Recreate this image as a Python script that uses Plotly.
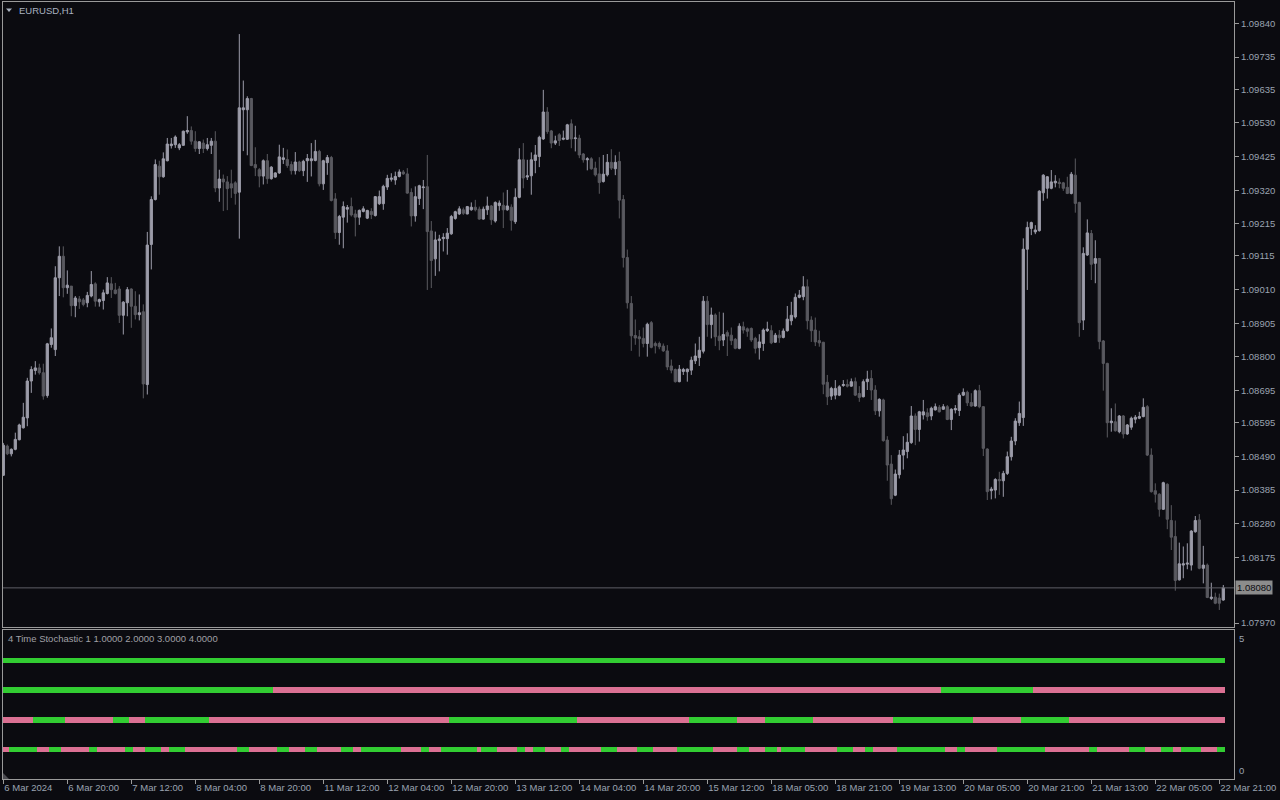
import plotly.graph_objects as go

# ---------------- data ----------------
TIME_LABELS = ["6 Mar 2024", "6 Mar 20:00", "7 Mar 12:00", "8 Mar 04:00", "8 Mar 20:00",
               "11 Mar 12:00", "12 Mar 04:00", "12 Mar 20:00", "13 Mar 12:00", "14 Mar 04:00",
               "14 Mar 20:00", "15 Mar 12:00", "18 Mar 05:00", "18 Mar 21:00", "19 Mar 13:00",
               "20 Mar 05:00", "20 Mar 21:00", "21 Mar 13:00", "22 Mar 05:00", "22 Mar 21:00"]
TIME_LABEL_BARS = [0, 16, 32, 48, 64, 80, 96, 112, 128, 144, 160, 176, 192, 208, 224, 240, 256, 272, 288, 304]

PRICE_TICKS = [1.09840, 1.09735, 1.09635, 1.09530, 1.09425, 1.09320, 1.09215, 1.09115, 1.09010,
               1.08905, 1.08800, 1.08695, 1.08595, 1.08490, 1.08385, 1.08280, 1.08175, 1.07970]
PRICE_TICK_TEXT = ["1.09840", "1.09735", "1.09635", "1.09530", "1.09425", "1.09320", "1.09215", "1.09115",
                   "1.09010", "1.08905", "1.08800", "1.08695", "1.08595", "1.08490", "1.08385", "1.08280",
                   "1.08175", "1.07970"]
CURRENT_PRICE = 1.08080

OPEN = [
    1.08431, 1.08522, 1.08498, 1.08512, 1.08542, 1.08579, 1.08610, 1.08725, 1.08758, 1.08766,
    1.08751, 1.08680, 1.08839, 1.08823, 1.09047, 1.09114, 1.09016, 1.09021, 1.08960, 1.08981,
    1.08978, 1.08969, 1.08990, 1.09028, 1.08972, 1.08976, 1.08998, 1.09028, 1.09009, 1.09012,
    1.08930, 1.08969, 1.09012, 1.08958, 1.08932, 1.08941, 1.08714, 1.09151, 1.09291, 1.09395,
    1.09362, 1.09412, 1.09459, 1.09462, 1.09452, 1.09460, 1.09502, 1.09506, 1.09473, 1.09450,
    1.09467, 1.09450, 1.09460, 1.09473, 1.09327, 1.09355, 1.09346, 1.09340, 1.09343, 1.09314,
    1.09571, 1.09571, 1.09606, 1.09400, 1.09384, 1.09364, 1.09412, 1.09356, 1.09361, 1.09374,
    1.09416, 1.09416, 1.09400, 1.09381, 1.09408, 1.09381, 1.09412, 1.09412, 1.09413, 1.09441,
    1.09340, 1.09406, 1.09422, 1.09293, 1.09188, 1.09236, 1.09261, 1.09269, 1.09246, 1.09236,
    1.09254, 1.09233, 1.09254, 1.09241, 1.09278, 1.09278, 1.09330, 1.09354, 1.09352, 1.09363,
    1.09377, 1.09371, 1.09313, 1.09240, 1.09294, 1.09328, 1.09331, 1.09193, 1.09106, 1.09163,
    1.09169, 1.09169, 1.09184, 1.09232, 1.09246, 1.09259, 1.09246, 1.09259, 1.09267, 1.09261,
    1.09230, 1.09259, 1.09271, 1.09224, 1.09272, 1.09273, 1.09259, 1.09267, 1.09222, 1.09298,
    1.09415, 1.09361, 1.09365, 1.09413, 1.09425, 1.09480, 1.09564, 1.09505, 1.09467, 1.09493,
    1.09479, 1.09479, 1.09527, 1.09481, 1.09482, 1.09433, 1.09415, 1.09418, 1.09389, 1.09371,
    1.09347, 1.09368, 1.09407, 1.09387, 1.09410, 1.09291, 1.09110, 1.08967, 1.08867, 1.08863,
    1.08858, 1.08842, 1.08907, 1.08842, 1.08842, 1.08834, 1.08819, 1.08772, 1.08761, 1.08723,
    1.08755, 1.08754, 1.08759, 1.08788, 1.08798, 1.08818, 1.08974, 1.08901, 1.08931, 1.08865,
    1.08853, 1.08876, 1.08868, 1.08855, 1.08827, 1.08894, 1.08888, 1.08889, 1.08858, 1.08829,
    1.08842, 1.08882, 1.08882, 1.08846, 1.08868, 1.08861, 1.08882, 1.08913, 1.08925, 1.08986,
    1.08988, 1.09019, 1.08915, 1.08884, 1.08851, 1.08846, 1.08721, 1.08678, 1.08681, 1.08681,
    1.08711, 1.08714, 1.08709, 1.08723, 1.08686, 1.08676, 1.08723, 1.08733, 1.08697, 1.08632,
    1.08666, 1.08541, 1.08466, 1.08369, 1.08433, 1.08494, 1.08505, 1.08533, 1.08616, 1.08574,
    1.08619, 1.08626, 1.08616, 1.08635, 1.08643, 1.08637, 1.08645, 1.08605, 1.08635, 1.08633,
    1.08681, 1.08690, 1.08658, 1.08647, 1.08695, 1.08645, 1.08513, 1.08383, 1.08385, 1.08418,
    1.08414, 1.08437, 1.08489, 1.08538, 1.08595, 1.08611, 1.09136, 1.09201, 1.09190, 1.09194,
    1.09312, 1.09326, 1.09326, 1.09343, 1.09345, 1.09343, 1.09329, 1.09310, 1.09367, 1.09282,
    1.08915, 1.09118, 1.09185, 1.09092, 1.09107, 1.08850, 1.08780, 1.08595, 1.08598, 1.08567,
    1.08616, 1.08560, 1.08581, 1.08606, 1.08609, 1.08614, 1.08645, 1.08494, 1.08383, 1.08372,
    1.08325, 1.08403, 1.08290, 1.08240, 1.08105, 1.08151, 1.08154, 1.08151, 1.08255, 1.08292,
    1.08141, 1.08151, 1.08047, 1.08051, 1.08048, 1.08042]

HIGH = [
    1.08532, 1.08527, 1.08515, 1.08564, 1.08592, 1.08657, 1.08735, 1.08771, 1.08787, 1.08779,
    1.08779, 1.08844, 1.08889, 1.09083, 1.09145, 1.09145, 1.09070, 1.09021, 1.08990, 1.08990,
    1.08984, 1.09003, 1.09068, 1.09033, 1.08982, 1.09010, 1.09049, 1.09049, 1.09031, 1.09021,
    1.08974, 1.09018, 1.09014, 1.09005, 1.08995, 1.08964, 1.09190, 1.09301, 1.09416, 1.09412,
    1.09438, 1.09483, 1.09483, 1.09491, 1.09467, 1.09506, 1.09551, 1.09519, 1.09504, 1.09473,
    1.09478, 1.09483, 1.09483, 1.09504, 1.09384, 1.09369, 1.09364, 1.09384, 1.09348, 1.09807,
    1.09662, 1.09613, 1.09608, 1.09454, 1.09389, 1.09416, 1.09433, 1.09395, 1.09376, 1.09462,
    1.09452, 1.09447, 1.09410, 1.09439, 1.09412, 1.09415, 1.09433, 1.09467, 1.09477, 1.09446,
    1.09415, 1.09430, 1.09427, 1.09311, 1.09243, 1.09285, 1.09274, 1.09297, 1.09259, 1.09260,
    1.09270, 1.09259, 1.09264, 1.09302, 1.09319, 1.09337, 1.09368, 1.09373, 1.09378, 1.09385,
    1.09383, 1.09389, 1.09326, 1.09332, 1.09337, 1.09352, 1.09430, 1.09224, 1.09191, 1.09181,
    1.09186, 1.09202, 1.09243, 1.09256, 1.09270, 1.09266, 1.09271, 1.09282, 1.09290, 1.09269,
    1.09269, 1.09300, 1.09274, 1.09285, 1.09288, 1.09313, 1.09321, 1.09276, 1.09326, 1.09451,
    1.09467, 1.09415, 1.09438, 1.09461, 1.09490, 1.09633, 1.09579, 1.09508, 1.09490, 1.09498,
    1.09506, 1.09527, 1.09541, 1.09521, 1.09493, 1.09436, 1.09423, 1.09423, 1.09409, 1.09423,
    1.09430, 1.09433, 1.09448, 1.09429, 1.09440, 1.09305, 1.09135, 1.08990, 1.08917, 1.08884,
    1.08892, 1.08907, 1.08912, 1.08848, 1.08848, 1.08842, 1.08837, 1.08792, 1.08764, 1.08775,
    1.08766, 1.08764, 1.08801, 1.08842, 1.08863, 1.08990, 1.08990, 1.08954, 1.08936, 1.08941,
    1.08938, 1.08883, 1.08892, 1.08859, 1.08905, 1.08910, 1.08892, 1.08892, 1.08863, 1.08871,
    1.08889, 1.08910, 1.08899, 1.08875, 1.08884, 1.08889, 1.08959, 1.08972, 1.08998, 1.09009,
    1.09052, 1.09042, 1.08927, 1.08923, 1.08882, 1.08847, 1.08744, 1.08707, 1.08728, 1.08712,
    1.08728, 1.08730, 1.08733, 1.08736, 1.08709, 1.08730, 1.08757, 1.08759, 1.08712, 1.08671,
    1.08670, 1.08553, 1.08494, 1.08449, 1.08510, 1.08553, 1.08562, 1.08647, 1.08624, 1.08632,
    1.08666, 1.08640, 1.08645, 1.08655, 1.08650, 1.08653, 1.08650, 1.08640, 1.08650, 1.08687,
    1.08702, 1.08695, 1.08687, 1.08699, 1.08713, 1.08647, 1.08515, 1.08395, 1.08422, 1.08442,
    1.08445, 1.08505, 1.08551, 1.08609, 1.08661, 1.09170, 1.09222, 1.09222, 1.09211, 1.09320,
    1.09370, 1.09364, 1.09383, 1.09367, 1.09357, 1.09346, 1.09362, 1.09377, 1.09419, 1.09284,
    1.09142, 1.09229, 1.09196, 1.09164, 1.09109, 1.08853, 1.08782, 1.08640, 1.08655, 1.08619,
    1.08619, 1.08591, 1.08614, 1.08619, 1.08629, 1.08671, 1.08650, 1.08515, 1.08406, 1.08375,
    1.08411, 1.08406, 1.08338, 1.08290, 1.08221, 1.08209, 1.08219, 1.08260, 1.08304, 1.08310,
    1.08211, 1.08156, 1.08096, 1.08065, 1.08062, 1.08089]

LOW = [
    1.08429, 1.08494, 1.08490, 1.08509, 1.08540, 1.08577, 1.08584, 1.08688, 1.08745, 1.08745,
    1.08667, 1.08673, 1.08829, 1.08803, 1.08990, 1.08986, 1.08997, 1.08927, 1.08924, 1.08950,
    1.08958, 1.08955, 1.08986, 1.08957, 1.08957, 1.08948, 1.08995, 1.08984, 1.08995, 1.08906,
    1.08870, 1.08927, 1.08891, 1.08917, 1.08914, 1.08671, 1.08683, 1.09073, 1.09288, 1.09306,
    1.09359, 1.09410, 1.09450, 1.09452, 1.09445, 1.09459, 1.09496, 1.09462, 1.09440, 1.09433,
    1.09436, 1.09444, 1.09433, 1.09314, 1.09284, 1.09255, 1.09258, 1.09296, 1.09275, 1.09169,
    1.09442, 1.09429, 1.09395, 1.09364, 1.09329, 1.09338, 1.09340, 1.09353, 1.09359, 1.09371,
    1.09402, 1.09390, 1.09369, 1.09369, 1.09377, 1.09364, 1.09346, 1.09363, 1.09410, 1.09332,
    1.09321, 1.09368, 1.09285, 1.09168, 1.09150, 1.09139, 1.09219, 1.09238, 1.09176, 1.09212,
    1.09251, 1.09230, 1.09230, 1.09238, 1.09274, 1.09259, 1.09321, 1.09347, 1.09337, 1.09360,
    1.09368, 1.09309, 1.09207, 1.09222, 1.09274, 1.09261, 1.09009, 1.09015, 1.09053, 1.09067,
    1.09129, 1.09119, 1.09181, 1.09228, 1.09243, 1.09243, 1.09245, 1.09256, 1.09254, 1.09228,
    1.09228, 1.09243, 1.09212, 1.09219, 1.09256, 1.09202, 1.09256, 1.09194, 1.09215, 1.09295,
    1.09326, 1.09352, 1.09306, 1.09373, 1.09392, 1.09477, 1.09496, 1.09451, 1.09461, 1.09458,
    1.09476, 1.09477, 1.09451, 1.09441, 1.09420, 1.09406, 1.09382, 1.09384, 1.09363, 1.09309,
    1.09344, 1.09363, 1.09383, 1.09367, 1.09232, 1.09079, 1.08951, 1.08819, 1.08838, 1.08801,
    1.08830, 1.08801, 1.08827, 1.08811, 1.08824, 1.08816, 1.08759, 1.08749, 1.08720, 1.08721,
    1.08744, 1.08723, 1.08744, 1.08778, 1.08772, 1.08811, 1.08863, 1.08858, 1.08834, 1.08821,
    1.08834, 1.08803, 1.08837, 1.08824, 1.08824, 1.08873, 1.08863, 1.08847, 1.08811, 1.08792,
    1.08819, 1.08878, 1.08840, 1.08844, 1.08844, 1.08858, 1.08879, 1.08899, 1.08920, 1.08983,
    1.08977, 1.08886, 1.08847, 1.08834, 1.08832, 1.08684, 1.08650, 1.08666, 1.08668, 1.08678,
    1.08707, 1.08705, 1.08707, 1.08678, 1.08660, 1.08674, 1.08697, 1.08666, 1.08619, 1.08614,
    1.08536, 1.08414, 1.08339, 1.08366, 1.08421, 1.08449, 1.08484, 1.08529, 1.08525, 1.08536,
    1.08605, 1.08601, 1.08603, 1.08633, 1.08627, 1.08635, 1.08603, 1.08572, 1.08624, 1.08616,
    1.08678, 1.08647, 1.08645, 1.08645, 1.08640, 1.08491, 1.08354, 1.08356, 1.08359, 1.08370,
    1.08364, 1.08432, 1.08477, 1.08525, 1.08585, 1.08585, 1.09009, 1.09180, 1.09183, 1.09191,
    1.09287, 1.09294, 1.09323, 1.09329, 1.09326, 1.09318, 1.09308, 1.09307, 1.09250, 1.08863,
    1.08884, 1.09115, 1.09040, 1.09030, 1.08824, 1.08695, 1.08549, 1.08567, 1.08567, 1.08562,
    1.08546, 1.08557, 1.08573, 1.08593, 1.08606, 1.08612, 1.08491, 1.08377, 1.08346, 1.08302,
    1.08323, 1.08263, 1.08198, 1.08071, 1.08103, 1.08110, 1.08138, 1.08134, 1.08252, 1.08138,
    1.08094, 1.08048, 1.08042, 1.08029, 1.08011, 1.08040]

CLOSE = [
    1.08525, 1.08498, 1.08512, 1.08543, 1.08588, 1.08612, 1.08725, 1.08761, 1.08766, 1.08751,
    1.08678, 1.08841, 1.08860, 1.09047, 1.09114, 1.09016, 1.09024, 1.08960, 1.08984, 1.08972,
    1.08964, 1.08992, 1.09026, 1.08974, 1.08979, 1.09000, 1.09031, 1.09010, 1.08998, 1.08930,
    1.08971, 1.09010, 1.08958, 1.08932, 1.08938, 1.08716, 1.09149, 1.09291, 1.09400, 1.09362,
    1.09418, 1.09464, 1.09464, 1.09486, 1.09462, 1.09504, 1.09506, 1.09473, 1.09450, 1.09471,
    1.09450, 1.09462, 1.09473, 1.09327, 1.09355, 1.09346, 1.09325, 1.09327, 1.09310, 1.09577,
    1.09577, 1.09606, 1.09397, 1.09390, 1.09364, 1.09412, 1.09356, 1.09392, 1.09374, 1.09424,
    1.09421, 1.09397, 1.09381, 1.09408, 1.09381, 1.09410, 1.09419, 1.09418, 1.09441, 1.09340,
    1.09412, 1.09422, 1.09288, 1.09188, 1.09238, 1.09269, 1.09266, 1.09243, 1.09236, 1.09257,
    1.09262, 1.09257, 1.09244, 1.09300, 1.09300, 1.09332, 1.09357, 1.09358, 1.09363, 1.09377,
    1.09371, 1.09311, 1.09240, 1.09300, 1.09334, 1.09330, 1.09191, 1.09101, 1.09165, 1.09168,
    1.09173, 1.09186, 1.09238, 1.09253, 1.09262, 1.09248, 1.09269, 1.09267, 1.09259, 1.09230,
    1.09261, 1.09271, 1.09228, 1.09282, 1.09280, 1.09259, 1.09271, 1.09226, 1.09298, 1.09415,
    1.09358, 1.09365, 1.09415, 1.09430, 1.09485, 1.09564, 1.09503, 1.09467, 1.09474, 1.09475,
    1.09482, 1.09524, 1.09480, 1.09483, 1.09430, 1.09415, 1.09418, 1.09387, 1.09368, 1.09344,
    1.09370, 1.09407, 1.09389, 1.09407, 1.09289, 1.09110, 1.08969, 1.08866, 1.08859, 1.08857,
    1.08842, 1.08902, 1.08830, 1.08835, 1.08832, 1.08819, 1.08769, 1.08759, 1.08723, 1.08762,
    1.08761, 1.08762, 1.08790, 1.08803, 1.08821, 1.08974, 1.08901, 1.08931, 1.08863, 1.08851,
    1.08870, 1.08865, 1.08851, 1.08827, 1.08896, 1.08884, 1.08880, 1.08853, 1.08827, 1.08847,
    1.08884, 1.08887, 1.08844, 1.08868, 1.08860, 1.08881, 1.08918, 1.08930, 1.08986, 1.08993,
    1.09019, 1.08913, 1.08882, 1.08847, 1.08844, 1.08715, 1.08676, 1.08702, 1.08702, 1.08707,
    1.08714, 1.08709, 1.08723, 1.08681, 1.08674, 1.08723, 1.08731, 1.08697, 1.08632, 1.08668,
    1.08539, 1.08463, 1.08358, 1.08435, 1.08494, 1.08510, 1.08534, 1.08616, 1.08574, 1.08629,
    1.08629, 1.08614, 1.08640, 1.08645, 1.08629, 1.08645, 1.08605, 1.08637, 1.08639, 1.08681,
    1.08690, 1.08657, 1.08647, 1.08695, 1.08645, 1.08515, 1.08380, 1.08388, 1.08418, 1.08414,
    1.08437, 1.08489, 1.08538, 1.08600, 1.08624, 1.09136, 1.09204, 1.09219, 1.09196, 1.09317,
    1.09367, 1.09362, 1.09346, 1.09348, 1.09341, 1.09326, 1.09310, 1.09370, 1.09279, 1.08907,
    1.09123, 1.09187, 1.09089, 1.09107, 1.08848, 1.08780, 1.08595, 1.08600, 1.08570, 1.08616,
    1.08560, 1.08588, 1.08609, 1.08612, 1.08614, 1.08643, 1.08494, 1.08380, 1.08372, 1.08325,
    1.08408, 1.08294, 1.08238, 1.08103, 1.08155, 1.08155, 1.08157, 1.08257, 1.08290, 1.08141,
    1.08151, 1.08050, 1.08051, 1.08032, 1.08032, 1.08080]

# 4 Time Stochastic: run lengths of alternating states per row (top row first)
ROW_LEVELS = [4, 3, 2, 1]
ROW_FIRST_STATE = ["up", "up", "down", "down"]
ROW_RUNS = [
    [306],
    [68, 167, 23, 48],
    [8, 8, 12, 4, 4, 16, 60, 32, 28, 12, 7, 12, 20, 20, 12, 12, 39],
    [2, 7, 3, 3, 7, 2, 7, 2, 3, 4, 2, 4, 13, 3, 7, 3, 4, 3, 6, 3, 2, 10, 5, 2, 3, 9, 1, 4, 5, 2,
     2, 3, 4, 2, 8, 4, 5, 4, 6, 9, 6, 3, 4, 3, 1, 6, 8, 4, 3, 2, 6, 12, 3, 2, 8, 12, 11, 2, 8, 4,
     4, 3, 2, 5, 4, 2],
]

# ---------------- styles ----------------
BG = "#0b0b10"
FRAME = "#9a9a9a"
TXT = "#9aa3b1"
FONT = "Liberation Sans, Arial, sans-serif"
UP_CANDLE = "#9d9daa"
DN_CANDLE = "#5a5a60"
UP_COL = "#32cd32"
DN_COL = "#db7093"

W, H = 1280, 800
ML, MR, MT, MB = 3, 46, 2, 21
PW, PH = W - ML - MR, H - MT - MB


def px_x(px):
    return (px - ML) / PW


def px_y(py):
    return (H - MB - py) / PH


n = len(CLOSE)
idx = list(range(n))

fig = go.Figure()

fig.add_trace(go.Candlestick(
    x=idx, open=OPEN, high=HIGH, low=LOW, close=CLOSE,
    increasing=dict(line=dict(color=UP_CANDLE, width=1), fillcolor=UP_CANDLE),
    decreasing=dict(line=dict(color=DN_CANDLE, width=1), fillcolor=DN_CANDLE),
    whiskerwidth=0, xaxis="x", yaxis="y", showlegend=False, hoverinfo="skip",
))


def expand(runs, first):
    out, state = [], first
    for r in runs:
        out += [state] * r
        state = "down" if state == "up" else "up"
    return out[:n]


for level, first, runs in zip(ROW_LEVELS, ROW_FIRST_STATE, ROW_RUNS):
    states = expand(runs, first)
    fig.add_trace(go.Bar(
        x=idx[:len(states)], y=[0.2] * len(states), base=[level - 0.1] * len(states),
        width=1.0, marker=dict(color=[UP_COL if s == "up" else DN_COL for s in states], line=dict(width=0)),
        xaxis="x2", yaxis="y2", showlegend=False, hoverinfo="skip",
    ))

main_bottom = px_y(627.3)
ind_top = px_y(629.5)

axis_common = dict(showgrid=False, zeroline=False, showline=True, linecolor=FRAME, linewidth=1,
                   mirror=True, automargin=False)

fig.update_layout(
    width=W, height=H, margin=dict(l=ML, r=MR, t=MT, b=MB, autoexpand=False),
    paper_bgcolor=BG, plot_bgcolor=BG, barmode="overlay", bargap=0, boxgap=0.2,
    font=dict(family=FONT, size=9.5, color=TXT),
    showlegend=False,
    xaxis=dict(domain=[0, 1], anchor="y", range=[-0.075, 307.675], showticklabels=False, ticks="",
               rangeslider=dict(visible=False), **axis_common),
    yaxis=dict(domain=[main_bottom, 1], anchor="x", side="right", range=[1.07957, 1.09907],
               tickvals=PRICE_TICKS, ticktext=PRICE_TICK_TEXT, ticks="outside", ticklen=4,
               tickcolor=FRAME, tickfont=dict(family=FONT, size=9.5, color=TXT), **axis_common),
    xaxis2=dict(domain=[0, 1], anchor="y2", matches="x", range=[-0.075, 307.675],
                tickvals=TIME_LABEL_BARS, ticktext=TIME_LABELS, ticks="outside", ticklen=4,
                tickcolor=FRAME, ticklabelposition="outside right", tickangle=0,
                tickfont=dict(family=FONT, size=9.5, color=TXT), **axis_common),
    yaxis2=dict(domain=[0, ind_top], anchor="x2", side="right", range=[-0.011, 5.028],
                showticklabels=False, ticks="", **axis_common),
)

# current price line and label
fig.add_shape(type="line", xref="x domain", x0=0, x1=1, yref="y", y0=CURRENT_PRICE, y1=CURRENT_PRICE,
              line=dict(color="#5e5e66", width=1))
fig.add_annotation(xref="paper", x=1, xanchor="left", xshift=1, yref="y", y=CURRENT_PRICE,
                   text=f"{CURRENT_PRICE:.5f}", showarrow=False, bgcolor="#8c8c8c", borderpad=1,
                   font=dict(family=FONT, size=9.5, color="#0b0b10"))

# indicator scale labels
fig.add_annotation(xref="paper", x=1, xanchor="left", xshift=3, yref="y2", y=5, yanchor="top", yshift=-1,
                   text="5", showarrow=False, font=dict(family=FONT, size=9.5, color=TXT))
fig.add_annotation(xref="paper", x=1, xanchor="left", xshift=3, yref="y2", y=0, yanchor="bottom", yshift=1,
                   text="0", showarrow=False, font=dict(family=FONT, size=9.5, color=TXT))

# window titles
fig.add_annotation(xref="paper", yref="paper", x=px_x(17), y=px_y(10), xanchor="left", yanchor="middle",
                   text="EURUSD,H1", showarrow=False, font=dict(family=FONT, size=9.5, color="#a9b2c0"))
fig.add_annotation(xref="paper", yref="paper", x=px_x(6), y=px_y(638), xanchor="left", yanchor="middle",
                   text="4 Time Stochastic 1 1.0000 2.0000 3.0000 4.0000", showarrow=False,
                   font=dict(family=FONT, size=9.5, color="#a0a0a6"))

# small decorations
fig.add_shape(type="path", xref="paper", yref="paper",
              path=f"M {px_x(6)} {px_y(8.5)} L {px_x(12)} {px_y(8.5)} L {px_x(9)} {px_y(12)} Z",
              fillcolor="#a9b2c0", line=dict(width=0))
fig.add_shape(type="path", xref="paper", yref="paper",
              path=f"M {px_x(3)} {px_y(773)} L {px_x(3)} {px_y(779)} L {px_x(9)} {px_y(779)} Z",
              fillcolor="#4a4a50", line=dict(width=0))

fig.write_html("out.html", config={"displayModeBar": False},
               post_script="document.body.style.margin='0';document.body.style.background='#0b0b10';")
